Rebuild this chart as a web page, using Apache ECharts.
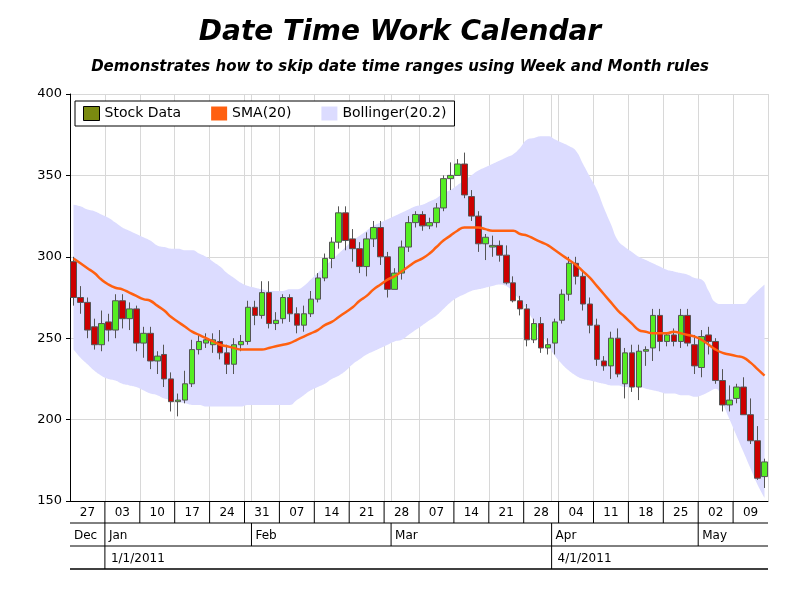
<!DOCTYPE html>
<html><head><meta charset="utf-8">
<script src="https://cdn.jsdelivr.net/npm/echarts@6/dist/echarts.min.js"></script>
<style>html,body{margin:0;padding:0;background:#fff}#c{width:800px;height:600px}</style>
</head><body><div id="c"></div>
<script>
const openV=[297,275,272,257,246,260,255,273,262,268,247,253,236,240,225,211,212,222,243,247,246,248,241,234,246,248,269,264,278,259,262,275,265,258,265,274,287,299,309,327,311,305,294,311,318,300,280,290,306,321,326,319,321,330,348,350,357,337,325,308,306,307,301,284,273,268,249,259,244,247,261,277,296,288,271,258,236,233,250,222,241,220,242,244,264,248,252,248,264,246,232,252,248,224,209,213,220,203,187,165];
const closeV=[275,272,255,246,259,255,273,262,268,247,253,236,239,225,211,212,222,243,248,249,249,241,234,246,248,269,264,278,259,261,275,265,258,265,274,287,299,309,327,310,305,294,311,318,300,280,290,306,321,326,319,321,330,348,350,357,338,325,308,312,307,301,284,273,268,249,259,244,246,260,277,296,288,271,258,237,233,250,228,241,220,242,243,264,248,252,248,264,247,233,251,248,224,209,212,220,203,187,164,174];
const lowV=[270,265,250,243,242,248,250,256,255,242,238,231,228,220,205,202,210,220,240,244,241,237,228,228,242,246,258,262,256,255,259,260,253,254,263,272,285,293,305,304,297,290,288,306,295,275,280,286,303,318,316,317,318,328,341,350,336,322,303,298,300,297,283,272,264,245,247,241,240,240,259,273,283,267,253,233,230,225,226,213,217,212,233,236,242,245,245,244,245,228,226,240,222,205,205,210,203,185,163,158];
const highV=[300,282,275,262,267,265,277,277,272,270,257,257,242,246,229,216,230,249,252,253,253,255,246,250,252,273,273,285,285,266,277,277,269,270,279,290,302,312,331,331,317,309,315,322,322,303,293,310,325,328,328,324,333,350,358,360,364,341,328,314,313,310,307,288,276,271,262,263,250,262,280,300,300,292,275,262,239,254,256,244,246,246,245,268,268,253,256,268,268,252,255,257,250,231,221,222,226,213,196,176];
const smaV=[299,296,293,290,286,283,281,280,278,276,274,273,270,267,263,260,257,254,252,250,248,246,245,244,243,243,243,243,244,245,246,247,249,251,253,255,258,260,263,266,269,273,276,280,283,286,288,291,294,297,299,302,306,310,313,316,318,318,318,317,316,316,316,316,314,313,311,309,307,304,301,298,295,291,287,282,277,272,267,263,259,255,254,253,253,253,254,253,252,251,249,246,243,241,240,239,238,235,231,227];
const upperV=[332,331,329,328,326,324,321,318,316,314,312,310,307,306,305,305,304,304,302,300,297,294,290,287,284,282,281,280,279,279,279,280,280,282,286,290,294,298,302,306,310,313,316,319,321,323,325,327,329,331,332,334,336,339,341,344,347,350,353,355,357,359,361,363,367,372,373,374,374,372,370,368,365,357,349,341,330,320,310,306,303,300,298,296,294,292,291,290,289,287,286,279,272,271,271,271,271,275,279,283];
const lowerV=[243,238,234,230,227,225,224,222,221,220,218,216,215,213,212,211,210,209,209,208,208,208,208,208,208,209,209,209,209,209,209,209,212,215,218,220,222,225,227,230,234,237,240,242,244,246,248,249,252,255,258,261,264,268,272,275,277,279,280,281,282,283,282,278,273,267,260,253,246,239,234,230,227,225,224,223,222,221,221,220,220,220,219,218,217,216,216,215,215,214,215,217,219,210,200,190,180,170,160,152];
const weekLabels=['27','03','10','17','24','31','07','14','21','28','07','14','21','28','04','11','18','25','02','09'];
const weekStarts=[0,5,10,15,20,25,30,35,40,45,50,55,60,65,70,75,80,85,90,95];
const monthLabels=['Dec','Jan','Feb','Mar','Apr','May'];
const monthStarts=[0,5,26,46,69,90];
const quarterLabels=['','1/1/2011','4/1/2011'];
const quarterStarts=[0,5,69];
const yTicks=[150,200,250,300,350,400];

const N=openV.length;
const cats=[];for(let i=0;i<N;i++)cats.push('d'+i);
const ohlc=openV.map((o,i)=>[o,closeV[i],lowV[i],highV[i]]);
const bandDiff=upperV.map((u,i)=>u-lowerV[i]);
const lineIdx=new Set(weekStarts.concat(monthStarts));
const font='DejaVu Sans';
const chart=echarts.init(document.getElementById('c'));
chart.setOption({
  animation:false,
  textStyle:{fontFamily:font},
  title:[{text:'Date Time Work Calendar',left:'center',top:14,textStyle:{fontFamily:font,fontSize:28,fontWeight:'bold',fontStyle:'italic',color:'#000'}},
         {text:'Demonstrates how to skip date time ranges using Week and Month rules',left:'center',top:55,textStyle:{fontFamily:font,fontSize:15,fontWeight:'bold',fontStyle:'italic',color:'#000'}}],
  legend:{left:75,top:101,orient:'horizontal',itemGap:30,itemWidth:16,itemHeight:14,padding:[5,8],borderColor:'#000',borderWidth:1,backgroundColor:'#fff',
    textStyle:{fontFamily:font,fontSize:14,color:'#000'},
    data:[{name:'Stock Data',icon:'rect',itemStyle:{color:'#7a8a10',borderColor:'#000',borderWidth:1}},
          {name:'SMA(20)',icon:'rect',itemStyle:{color:'#ff6010'}},
          {name:'Bollinger(20.2)',icon:'rect',itemStyle:{color:'#dcdcff'}}]},
  grid:{left:70,right:32,top:94,bottom:99},
  xAxis:{type:'category',data:cats,boundaryGap:true,
    axisLine:{lineStyle:{color:'#000'}},axisTick:{show:false},axisLabel:{show:false},
    splitLine:{show:true,interval:(i)=>lineIdx.has(i),lineStyle:{color:'#d8d8d8',width:1}}},
  yAxis:{type:'value',min:150,max:400,interval:50,
    axisLine:{show:true,lineStyle:{color:'#000'}},axisTick:{show:true,length:4,lineStyle:{color:'#000'}},
    axisLabel:{color:'#000',fontSize:13,fontFamily:font,formatter:v=>yTicks.includes(v)?String(v):''},
    splitLine:{lineStyle:{color:'#d8d8d8'}}},
  series:[
    {name:'lowerBand',type:'line',data:lowerV,stack:'band',symbol:'none',smooth:true,lineStyle:{opacity:0},silent:true,z:1},
    {name:'Bollinger(20.2)',type:'line',data:bandDiff,stack:'band',symbol:'none',smooth:true,lineStyle:{opacity:0},areaStyle:{color:'#dcdcff',opacity:1},itemStyle:{color:'#dcdcff'},z:1},
    {name:'Stock Data',type:'candlestick',data:ohlc,barWidth:6,z:3,
      itemStyle:{color:'#55ee22',color0:'#cc0000',borderColor:'#555',borderColor0:'#555',borderWidth:1}},
    {name:'SMA(20)',type:'line',data:smaV,symbol:'none',smooth:true,lineStyle:{color:'#ff6010',width:2.5},itemStyle:{color:'#ff6010'},z:4}
  ]
});
function bx(i){const c=chart.convertToPixel({xAxisIndex:0},'d'+Math.min(i,N-1));const w=698/N;return i>=N?c+w/2:c-w/2;}
const g=[];const y0=501,y1=523,y2=546,y3=569,xR=768;
[y1,y2].forEach(y=>g.push({type:'line',shape:{x1:70,y1:y,x2:xR,y2:y},style:{stroke:'#000',lineWidth:1}}));
g.push({type:'line',shape:{x1:70,y1:y3,x2:xR,y2:y3},style:{stroke:'#000',lineWidth:1.5}});
weekStarts.forEach((s,k)=>{const x=bx(s);const xe=bx(k+1<weekStarts.length?weekStarts[k+1]:N);
  if(k>0)g.push({type:'line',shape:{x1:x,y1:y0,x2:x,y2:y1},style:{stroke:'#000',lineWidth:1}});
  g.push({type:'text',style:{text:weekLabels[k],x:(x+Math.min(xe,xR))/2,y:(y0+y1)/2+1,align:'center',verticalAlign:'middle',font:'12px "DejaVu Sans"',fill:'#000'}});});
monthStarts.forEach((s,k)=>{const x=bx(s);
  if(k>0)g.push({type:'line',shape:{x1:x,y1:y1,x2:x,y2:y2},style:{stroke:'#000',lineWidth:1}});
  g.push({type:'text',style:{text:monthLabels[k],x:x+4,y:(y1+y2)/2+1,align:'left',verticalAlign:'middle',font:'12px "DejaVu Sans"',fill:'#000'}});});
quarterStarts.forEach((s,k)=>{const x=bx(s);
  if(k>0)g.push({type:'line',shape:{x1:x,y1:y2,x2:x,y2:y3},style:{stroke:'#000',lineWidth:1}});
  g.push({type:'text',style:{text:quarterLabels[k],x:x+6,y:(y2+y3)/2+1,align:'left',verticalAlign:'middle',font:'12px "DejaVu Sans"',fill:'#000'}});});
chart.setOption({graphic:g});
</script></body></html>
